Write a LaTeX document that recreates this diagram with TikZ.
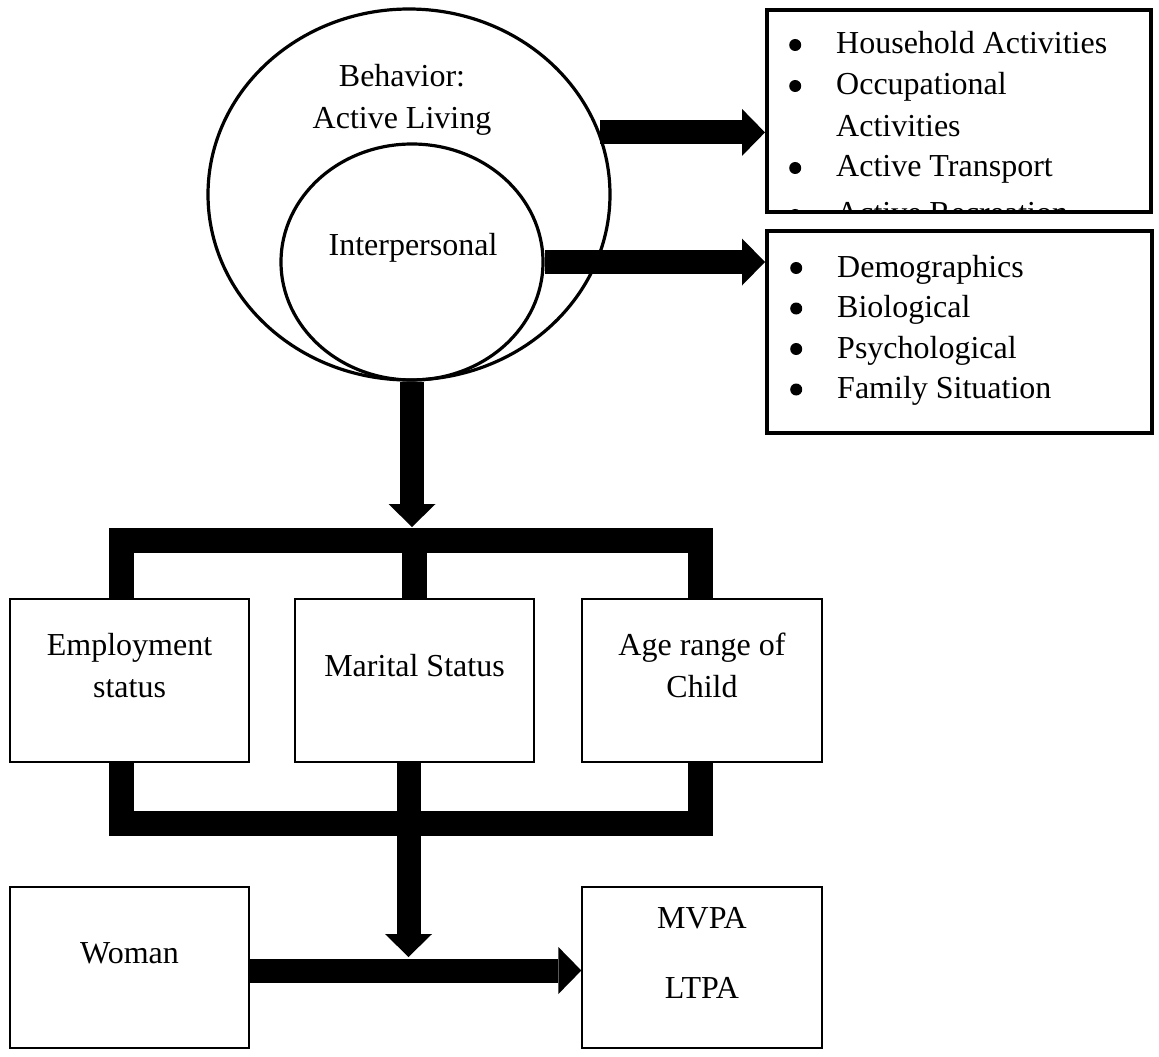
\documentclass[tikz,border=0pt]{standalone}
\usepackage{fontspec}
\setmainfont{Liberation Serif}
\usetikzlibrary{arrows.meta,shapes.geometric,calc}
\newcommand\bxt[4]{\parbox[c][#2][t]{#1}{\centering\vspace*{#3}\strut #4}}
\newcommand\blt{\tikz[baseline=0pt]\fill (6pt,9pt) circle[radius=6pt];}
\newcommand\itmA[1]{\hspace*{24pt}\makebox[47pt][l]{\blt}#1}
\newcommand\itmB[1]{\hspace*{25pt}\makebox[47pt][l]{\blt}#1}
\begin{document}
\begin{tikzpicture}[x=1pt,y=-1pt,
  font=\fontsize{32}{42}\selectfont,
  box/.style={draw, rectangle, line width=1.3pt, inner sep=0pt},
  listbox/.style={draw, rectangle, line width=4pt, inner sep=0pt, minimum width=384pt, minimum height=202pt},
  oval/.style={draw, ellipse, line width=3.2pt, inner sep=0pt},
  txt/.style={anchor=base, inner sep=0pt},
  fat/.style={line width=24pt, -{Triangle[length=23pt,width=47pt,line width=0pt]}},
  bar/.style={line width=25pt, line join=miter, line cap=butt},
]
\useasboundingbox (0,0) rectangle (1159,1057);

% ellipses
\node[oval, minimum width=402pt, minimum height=371pt] (beh) at (409,194.5) {};
\node[oval, minimum width=262pt, minimum height=236pt] (ipers) at (412,262) {};
\node[txt] (behT) at (402,86) {\parbox[t]{300pt}{\centering Behavior:\\Active Living}};
\node[txt] (ipersT) at (413,255) {Interpersonal};

% right list boxes
\node[listbox] (acts) at (959,111) {};
\node[listbox, minimum width=385pt] (dets) at (959.5,332) {};
\begin{scope}
  \clip ($(acts.north west)+(4,4)$) rectangle ($(acts.south east)+(-4,-4)$);
  \node[anchor=base west, inner sep=0pt] (actsT) at ($(acts.north west)+(0,46)$)
    {\parbox[t]{380pt}{\fontsize{32}{41}\selectfont\raggedright
      \itmA{Household Activities}\\
      \itmA{Occupational}\\
      \hspace*{71pt}Activities\\
      \itmA{Active Transport}\\[6pt]
      \itmA{Active Recreation}}};
\end{scope}
\node[anchor=base west, inner sep=0pt] (detsT) at ($(dets.north west)+(0,48)$)
  {\parbox[t]{380pt}{\fontsize{32}{40.5}\selectfont\raggedright
    \itmB{Demographics}\\
    \itmB{Biological}\\
    \itmB{Psychological}\\
    \itmB{Family Situation}}};

% lower boxes
\node[box] (emp) at (129.5,680.5) {\bxt{239pt}{163pt}{26.6pt}{Employment\\status}};
\node[box] (mar) at (414.5,680.5) {\bxt{239pt}{163pt}{47.6pt}{Marital Status}};
\node[box] (age) at (702,680.5) {\bxt{240pt}{163pt}{26.6pt}{Age range of\\Child}};
\node[box] (wom) at (129.5,967.5) {\bxt{239pt}{161pt}{46.6pt}{Woman}};
\node[box] (pa) at (702,967.5) {\bxt{240pt}{161pt}{11.6pt}{MVPA\\[28pt]LTPA}};

% arrows from the circles
\draw[fat] (beh.18) -- (beh.18 -| acts.west);
\draw[fat] (ipers.east) -- (ipers.east -| dets.west);
\coordinate (fT) at (0,527);
\draw[fat] (ipers.south) -- (ipers.south |- fT);

% upper fork
\coordinate (f1) at (121.5,540);
\coordinate (f2) at (700.5,540);
\draw[bar] (emp.north -| f1) -- (f1) -- (f2) -- (age.north -| f2);
\draw[bar] (f1 -| mar.north) -- (mar.north);

% lower fork
\coordinate (b1) at (121.5,823.5);
\coordinate (b2) at (700.5,823.5);
\draw[bar] (emp.south -| b1) -- (b1) -- (b2) -- (age.south -| b2);
\coordinate (mid) at (408.5,957);
\draw[fat] (mar.south -| mid) -- (mid);

% woman to outcome
\coordinate (hy) at (0,970.5);
\draw[fat] (wom.east |- hy) -- (pa.west |- hy);
\end{tikzpicture}
\end{document}
